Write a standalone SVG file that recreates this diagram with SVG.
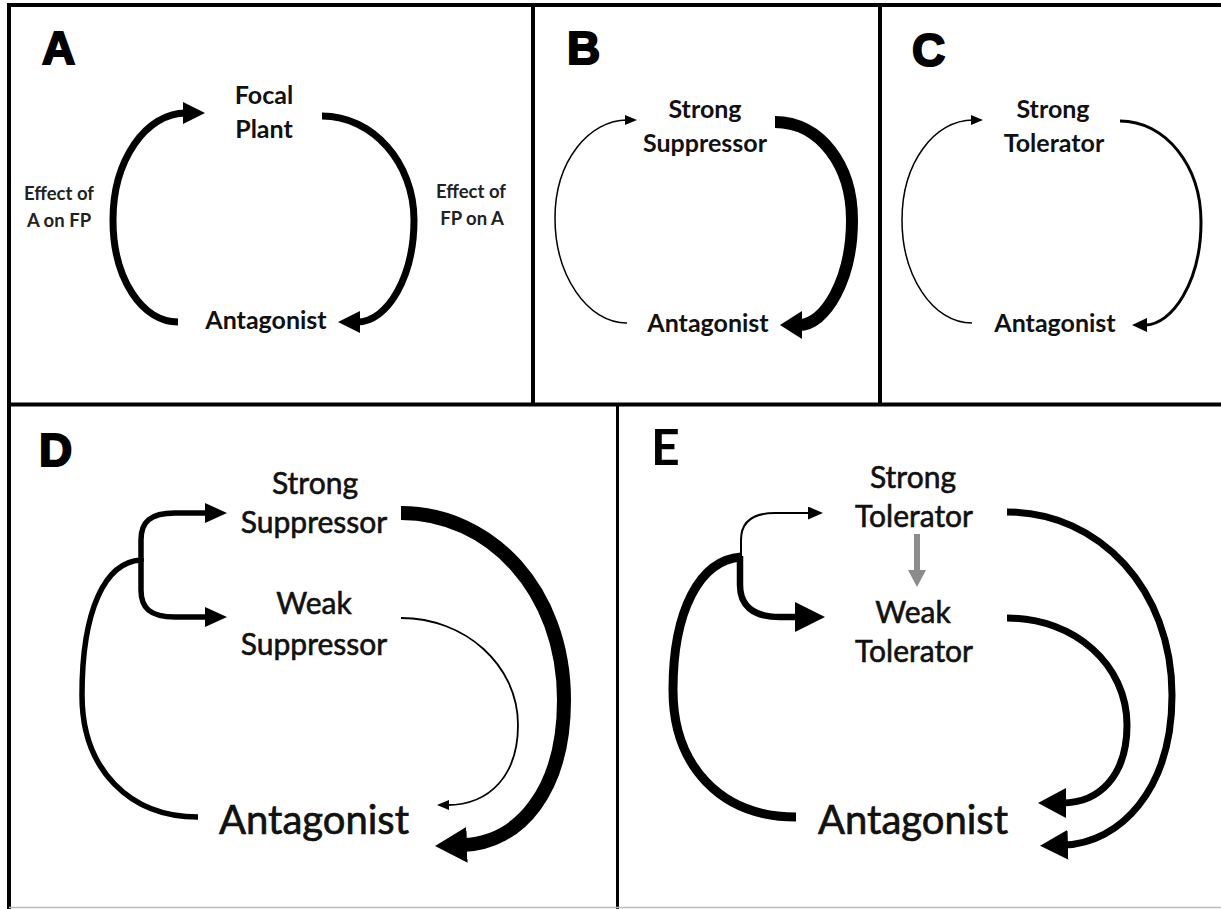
<svg xmlns="http://www.w3.org/2000/svg" width="1221" height="909" viewBox="0 0 1221 909">
<style>
.frame{stroke:#000;stroke-width:4;fill:none}
.lbl{font-family:"Liberation Sans",Arial,sans-serif;font-weight:bold;font-size:46px;fill:#000;stroke:#000;stroke-width:2}
.lblE{font-family:Lato,"Liberation Sans",sans-serif;font-weight:bold;font-size:50px;fill:#000}
.t1{font-family:Lato,"Liberation Sans",sans-serif;font-weight:bold;font-size:25px;fill:#111;text-anchor:middle}
.t2{font-family:Lato,"Liberation Sans",sans-serif;font-weight:bold;font-size:18.5px;fill:#222;text-anchor:middle}
.t3{font-family:Lato,"Liberation Sans",sans-serif;font-weight:normal;font-size:30px;fill:#111;stroke:#111;stroke-width:0.6;text-anchor:middle}
.t4{font-family:Lato,"Liberation Sans",sans-serif;font-weight:normal;font-size:40px;fill:#111;stroke:#111;stroke-width:0.7;text-anchor:middle}
.c{fill:none;stroke:#000;stroke-linecap:butt}
</style>
<defs>
<marker id="mA" markerUnits="userSpaceOnUse" markerWidth="22" markerHeight="22" viewBox="0 0 22 22" refX="3" refY="11" orient="auto"><path d="M0,0 L22,11 L0,22 Z" fill="#000"/></marker>
<marker id="mThin" markerUnits="userSpaceOnUse" markerWidth="12" markerHeight="10" viewBox="0 0 12 10" refX="2" refY="5" orient="auto"><path d="M0,0 L12,5 L0,10 Z" fill="#000"/></marker>
<marker id="mB" markerUnits="userSpaceOnUse" markerWidth="22" markerHeight="28" viewBox="0 0 22 28" refX="3" refY="14" orient="auto"><path d="M0,0 L22,14 L0,28 Z" fill="#000"/></marker>
<marker id="mC" markerUnits="userSpaceOnUse" markerWidth="15" markerHeight="14" viewBox="0 0 15 14" refX="2" refY="7" orient="auto"><path d="M0,0 L15,7 L0,14 Z" fill="#000"/></marker>
<marker id="mD" markerUnits="userSpaceOnUse" markerWidth="32" markerHeight="36" viewBox="0 0 32 36" refX="4" refY="18" orient="auto"><path d="M0,0 L32,18 L0,36 Z" fill="#000"/></marker>
<marker id="mDb" markerUnits="userSpaceOnUse" markerWidth="22" markerHeight="20" viewBox="0 0 22 20" refX="3" refY="10" orient="auto"><path d="M0,0 L22,10 L0,20 Z" fill="#000"/></marker>
<marker id="mE" markerUnits="userSpaceOnUse" markerWidth="28" markerHeight="30" viewBox="0 0 28 30" refX="4" refY="15" orient="auto"><path d="M0,0 L28,15 L0,30 Z" fill="#000"/></marker>
<marker id="mEb" markerUnits="userSpaceOnUse" markerWidth="30" markerHeight="30" viewBox="0 0 30 30" refX="4" refY="15" orient="auto"><path d="M0,0 L30,15 L0,30 Z" fill="#000"/></marker>
<marker id="mEt" markerUnits="userSpaceOnUse" markerWidth="15" markerHeight="13" viewBox="0 0 15 13" refX="2" refY="6.5" orient="auto"><path d="M0,0 L15,6.5 L0,13 Z" fill="#000"/></marker>
<marker id="mG" markerUnits="userSpaceOnUse" markerWidth="17" markerHeight="18" viewBox="0 0 17 18" refX="3" refY="9" orient="auto"><path d="M0,0 L17,9 L0,18 Z" fill="#8c8c8c"/></marker>
</defs>
<rect x="0" y="0" width="1221" height="909" fill="#fff"/>
<g id="frames">
<line class="frame" x1="9" y1="5" x2="1221" y2="5"/>
<line class="frame" x1="9" y1="3" x2="9" y2="909"/>
<line class="frame" x1="9" y1="404.5" x2="1221" y2="404.5"/>
<line class="frame" x1="533" y1="5" x2="533" y2="404"/>
<line class="frame" x1="880" y1="5" x2="880" y2="404"/>
<line class="frame" x1="617.5" y1="404" x2="617.5" y2="909" style="stroke-width:3"/>
<line x1="9" y1="907.5" x2="1221" y2="907.5" stroke="#bbb" stroke-width="1.5"/>
</g>
<g id="panel-labels">
<text class="lbl" x="42" y="64">A</text>
<text class="lbl" x="567" y="64">B</text>
<text class="lbl" x="912" y="66">C</text>
<text class="lbl" x="39" y="466">D</text>
<text class="lblE" x="651" y="465">E</text>
</g>
<g id="A-focal-plant"><text class="t1" x="264" y="104">Focal</text><text class="t1" x="264" y="138">Plant</text></g>
<g id="A-antagonist"><text class="t1" x="266" y="329">Antagonist</text></g>
<g id="A-effect-left"><text class="t2" x="59" y="200">Effect of</text><text class="t2" x="59" y="227">A on FP</text></g>
<g id="A-effect-right"><text class="t2" x="471" y="198">Effect of</text><text class="t2" x="472" y="225">FP on A</text></g>
<g id="B-strong-suppressor"><text class="t1" x="705" y="118">Strong</text><text class="t1" x="705" y="152">Suppressor</text></g>
<g id="B-antagonist"><text class="t1" x="708" y="332">Antagonist</text></g>
<g id="C-strong-tolerator"><text class="t1" x="1053" y="118">Strong</text><text class="t1" x="1054" y="152">Tolerator</text></g>
<g id="C-antagonist"><text class="t1" x="1055" y="332">Antagonist</text></g>
<g id="D-strong-suppressor"><text class="t3" x="315" y="494">Strong</text><text class="t3" x="314" y="533">Suppressor</text></g>
<g id="D-weak-suppressor"><text class="t3" x="314" y="614">Weak</text><text class="t3" x="314" y="655">Suppressor</text></g>
<g id="D-antagonist"><text class="t4" x="314" y="834">Antagonist</text></g>
<g id="E-strong-tolerator"><text class="t3" x="913" y="488">Strong</text><text class="t3" x="914" y="527">Tolerator</text></g>
<g id="E-weak-tolerator"><text class="t3" x="913" y="623">Weak</text><text class="t3" x="914" y="662">Tolerator</text></g>
<g id="E-antagonist"><text class="t4" x="913" y="834">Antagonist</text></g>
<g id="connectors">
<path class="c" stroke-width="7" marker-end="url(#mA)" d="M178,322 C143,322 113,280 113,220 C113,160 146,113 186,113"/>
<path class="c" stroke-width="7" marker-end="url(#mA)" d="M322,116 C373,116 414,163 414,220 C414,276 388,322 357,322"/>
<path class="c" stroke-width="1.5" marker-end="url(#mThin)" d="M627,323 C587,323 555,275 555,218 C555,160 590,120 627,120"/>
<path class="c" stroke-width="12" marker-end="url(#mB)" d="M775,122 C820,122 852,165 852,220 C852,280 825,325 799,325"/>
<path class="c" stroke-width="1.5" marker-end="url(#mThin)" d="M972,323 C932,323 902,275 902,220 C902,162 935,120 973,120"/>
<path class="c" stroke-width="3" marker-end="url(#mC)" d="M1120,121 C1165,121 1201,165 1201,222 C1201,282 1172,325 1145,325"/>
<path class="c" stroke-width="5.5" d="M198,817 C130,817 82,770 82,695 C82,610 105,562 141,560"/>
<path class="c" stroke-width="5.5" marker-end="url(#mDb)" d="M141,562 L141,540 C141,522 150,513 175,513 L208,513"/>
<path class="c" stroke-width="5.5" marker-end="url(#mDb)" d="M141,558 L141,590 C141,608 150,617 175,617 L208,617"/>
<path class="c" stroke-width="14" marker-end="url(#mD)" d="M401,513 C490,513 564,590 564,700 C564,790 520,843 463,845"/>
<path class="c" stroke-width="1.8" marker-end="url(#mThin)" d="M401,618 C465,618 518,665 518,725 C518,775 490,805 447,805"/>
<path class="c" stroke-width="9" d="M796,817 C720,817 673,765 673,690 C673,610 700,560 741,557"/>
<path class="c" stroke-width="2" marker-end="url(#mEt)" d="M741,559 L741,540 C741,522 752,513 775,513 L810,513"/>
<path class="c" stroke-width="6.5" marker-end="url(#mEb)" d="M740,556 L740,585 C740,605 752,617 780,617 L799,617"/>
<path class="c" stroke-width="7" marker-end="url(#mE)" d="M1007,512 C1100,512 1172,590 1172,695 C1172,790 1120,843 1064,845"/>
<path class="c" stroke-width="7" marker-end="url(#mE)" d="M1007,618 C1075,618 1127,665 1127,725 C1127,775 1100,803 1062,803"/>
<path fill="none" stroke="#8c8c8c" stroke-width="6" marker-end="url(#mG)" d="M917,534 L917,573"/>
</g>
</svg>
